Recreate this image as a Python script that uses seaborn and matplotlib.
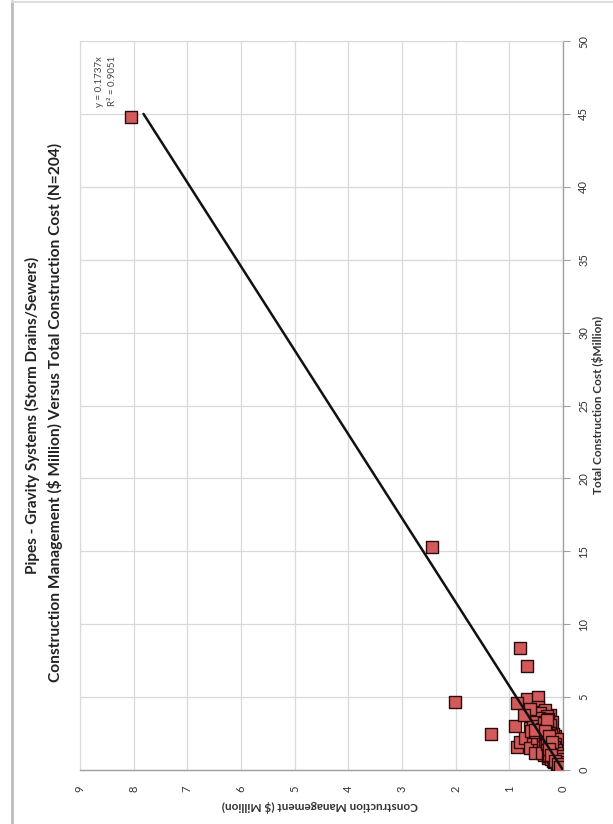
import matplotlib
matplotlib.use("Agg")
import matplotlib.pyplot as plt
import seaborn as sns
import pandas as pd
import numpy as np
from matplotlib.lines import Line2D

sns.set_style("white")
plt.rcParams['font.family'] = ['Lato', 'DejaVu Sans']

title_line1 = "Pipes - Gravity Systems (Storm Drains/Sewers)"
title_line2 = "Construction Management ($ Million) Versus Total Construction Cost (N=204)"
xlabel_txt = "Total Construction Cost ($Million)"
ylabel_txt = "Construction Management ($ Million)"
eq_txt = "y = 0.1737x\nR² = 0.9051"
slope = 0.1737
line_end = 45.0

tcc_ticks = [0, 5, 10, 15, 20, 25, 30, 35, 40, 45, 50]
cm_ticks = [0, 1, 2, 3, 4, 5, 6, 7, 8, 9]

# Total construction cost ($M)
tcc = [44.8, 15.3, 4.65, 2.5, 8.4, 7.1, 4.9, 5.0, 4.6, 4.3, 3.8, 3.6, 3.4, 3.0, 1.6, 1.9,
       2.9, 3.5, 4.0, 4.1, 3.9, 2.7, 2.4, 2.2, 3.1, 3.3, 2.8, 2.6, 2.0, 1.8, 1.7, 1.5,
       1.4, 1.3, 1.2, 2.3, 2.1, 1.9, 1.6, 1.5, 1.1, 1.0, 0.9, 0.8, 0.7, 0.6, 0.5, 0.4,
       0.3, 0.2, 0.1, 3.7, 3.2, 2.9, 2.5, 2.2, 2.0, 1.8, 1.7, 1.4, 1.3, 1.2, 1.1, 1.0,
       0.95, 0.85, 0.75, 0.65, 0.55, 0.45, 0.35, 0.25, 0.15, 0.08, 0.05, 3.6, 3.3, 3.0,
       2.7, 2.4, 2.1, 1.95, 1.75, 1.55, 1.35, 1.15, 1.05, 0.92, 0.82, 0.72, 0.62, 0.52,
       0.42, 0.32, 0.22, 0.12, 0.06, 2.6, 2.3, 2.0, 1.85, 1.65, 1.45, 1.25, 0.98, 0.88,
       0.78, 0.68, 0.58, 0.48, 0.38, 0.28, 0.18, 0.1, 0.04, 3.5, 3.1, 2.8, 2.45, 2.15,
       1.9, 1.6, 1.35, 1.1, 0.9, 0.7, 0.5, 0.33, 0.2, 0.09, 0.03, 1.5, 1.2, 0.95, 0.75,
       0.6, 0.45, 0.3, 0.16, 0.07, 0.02, 2.35, 2.05, 1.7, 1.4, 1.15, 0.85, 0.66, 0.5,
       0.36, 0.24, 0.13, 0.05, 3.2, 2.9, 2.55, 2.25, 1.95, 1.65, 1.3, 1.0, 0.8, 0.55,
       0.4, 0.26, 0.14, 0.06, 0.02, 4.2, 3.75, 3.45, 0.7, 0.5, 0.35, 0.22, 0.11, 0.04,
       1.25, 1.05, 0.87, 0.63, 0.47, 0.31, 0.19, 0.09, 0.03, 0.01, 2.75, 2.45, 1.8, 1.45,
       0.97, 0.77, 0.57, 0.41, 0.27, 0.17, 0.08, 0.03]
# Construction management ($M)
cm = [8.05, 2.45, 2.01, 1.34, 0.80, 0.67, 0.68, 0.47, 0.86, 0.47, 0.24, 0.38, 0.60, 0.89, 0.86, 0.80,
      0.62, 0.52, 0.56, 0.33, 0.42, 0.45, 0.55, 0.70, 0.32, 0.20, 0.25, 0.35, 0.42, 0.55, 0.35, 0.62,
      0.45, 0.30, 0.52, 0.15, 0.25, 0.18, 0.22, 0.12, 0.20, 0.35, 0.15, 0.28, 0.10, 0.18, 0.08, 0.12,
      0.05, 0.04, 0.02, 0.30, 0.42, 0.36, 0.40, 0.48, 0.30, 0.38, 0.28, 0.34, 0.22, 0.40, 0.16, 0.24,
      0.28, 0.20, 0.22, 0.14, 0.16, 0.10, 0.09, 0.06, 0.04, 0.02, 0.01, 0.45, 0.50, 0.55, 0.60,
      0.38, 0.34, 0.25, 0.30, 0.26, 0.24, 0.18, 0.26, 0.18, 0.12, 0.15, 0.10, 0.12, 0.08, 0.07,
      0.05, 0.03, 0.02, 0.50, 0.28, 0.22, 0.30, 0.20, 0.18, 0.14, 0.12, 0.14, 0.16, 0.10, 0.09,
      0.10, 0.06, 0.05, 0.04, 0.02, 0.01, 0.28, 0.24, 0.40, 0.18, 0.20, 0.12, 0.14, 0.10, 0.08,
      0.06, 0.05, 0.04, 0.03, 0.02, 0.01, 0.01, 0.20, 0.08, 0.10, 0.12, 0.06, 0.05, 0.04, 0.02,
      0.01, 0.005, 0.28, 0.20, 0.16, 0.12, 0.10, 0.08, 0.07, 0.06, 0.04, 0.03, 0.02, 0.01, 0.36,
      0.30, 0.26, 0.22, 0.24, 0.20, 0.16, 0.12, 0.11, 0.08, 0.06, 0.04, 0.03, 0.01, 0.005, 0.62,
      0.72, 0.30, 0.08, 0.07, 0.05, 0.03, 0.02, 0.01, 0.18, 0.14, 0.12, 0.09, 0.07, 0.05, 0.03,
      0.02, 0.01, 0.002, 0.52, 0.32, 0.24, 0.22, 0.13, 0.11, 0.09, 0.07, 0.05, 0.03, 0.02, 0.01]

# additional small projects packed near the origin
tcc_small = [1.9, 1.7, 1.5, 1.3, 1.1, 0.9, 0.7, 0.5, 0.3, 0.15, 2.2, 2.0, 1.8, 1.6, 1.4,
             1.2, 1.0, 0.8, 0.6, 0.4, 0.25, 0.12, 2.4, 2.1, 1.75, 1.55, 1.35, 1.15, 0.95,
             0.75, 0.55, 0.35, 0.18, 0.07, 2.65, 2.3, 1.95, 1.45, 1.05, 0.65, 0.43, 0.23]
cm_small = [0.26, 0.22, 0.20, 0.18, 0.15, 0.13, 0.11, 0.08, 0.06, 0.03, 0.30, 0.16, 0.12, 0.10, 0.09,
            0.08, 0.07, 0.06, 0.05, 0.04, 0.03, 0.02, 0.22, 0.12, 0.15, 0.17, 0.13, 0.11, 0.09,
            0.08, 0.07, 0.05, 0.04, 0.02, 0.34, 0.26, 0.20, 0.26, 0.22, 0.14, 0.09, 0.06]

df = pd.DataFrame({"tcc": tcc + tcc_small, "cm": cm + cm_small})

W, H = 613, 824
fig = plt.figure(figsize=(W / 100, H / 100), dpi=100)
fig.patch.set_facecolor("white")

left, right, top, bottom = 80, 563, 41, 770
ax = fig.add_axes([left / W, 1 - bottom / H, (right - left) / W, (bottom - top) / H])

# rotated chart: horizontal = CM (reversed), vertical = TCC
sns.scatterplot(data=df, x="cm", y="tcc", ax=ax, marker="s", s=85,
                color="#d25a5a", edgecolor="#2a0c0c", linewidth=1.0, zorder=3)

xs = np.array([0.0, line_end])
ax.plot(xs * slope, xs, color="#111111", lw=1.8, zorder=4)

ax.set_xlim(9, 0)
ax.set_ylim(0, 50)
ax.set_xticks(cm_ticks)
ax.set_yticks(tcc_ticks)
ax.grid(True, color="#d9d9d9", lw=0.9)
ax.set_axisbelow(True)

ax.yaxis.tick_right()
ax.tick_params(axis="y", which="both", direction="out", length=5, color="#a0a0a0",
               labelsize=8, labelrotation=90, pad=6, labelcolor="#333333")
ax.tick_params(axis="x", which="both", direction="out", length=5, color="#a0a0a0",
               labelsize=8, labelrotation=90, pad=6, labelcolor="#333333")
for lab in ax.get_yticklabels():
    lab.set_va("center")
for sp in ["top", "left"]:
    ax.spines[sp].set_color("#d9d9d9")
for sp in ["right", "bottom"]:
    ax.spines[sp].set_color("#a0a0a0")
    ax.spines[sp].set_linewidth(1.0)
ax.set_xlabel("")
ax.set_ylabel("")

# axis titles
fig.text(598 / W, 1 - 405 / H, xlabel_txt, rotation=90, ha="center", va="center",
         fontsize=8.5, fontweight="bold", color="#333333")
fig.text(320 / W, 1 - 806 / H, ylabel_txt, rotation=180, ha="center", va="center",
         fontsize=8.5, fontweight="bold", color="#333333")

# chart title
fig.text(32 / W, 1 - 415 / H, title_line1, rotation=90, ha="center", va="center",
         fontsize=11, fontweight="bold", color="#222222")
fig.text(55 / W, 1 - 412 / H, title_line2, rotation=90, ha="center", va="center",
         fontsize=11.2, fontweight="bold", color="#222222")

# equation
ax.text(8.52, 45.5, eq_txt, rotation=90, ha="center", va="bottom", fontsize=7,
        color="#444444", linespacing=1.6)

# outer frame
fig.add_artist(Line2D([12 / W, 12 / W], [0, 1 - 1 / H], color="#bbbbbb", lw=2.0))
fig.add_artist(Line2D([12 / W, 1], [1 - 1.5 / H, 1 - 1.5 / H], color="#dddddd", lw=1.5))

fig.savefig("out.png", dpi=100, facecolor="white")
